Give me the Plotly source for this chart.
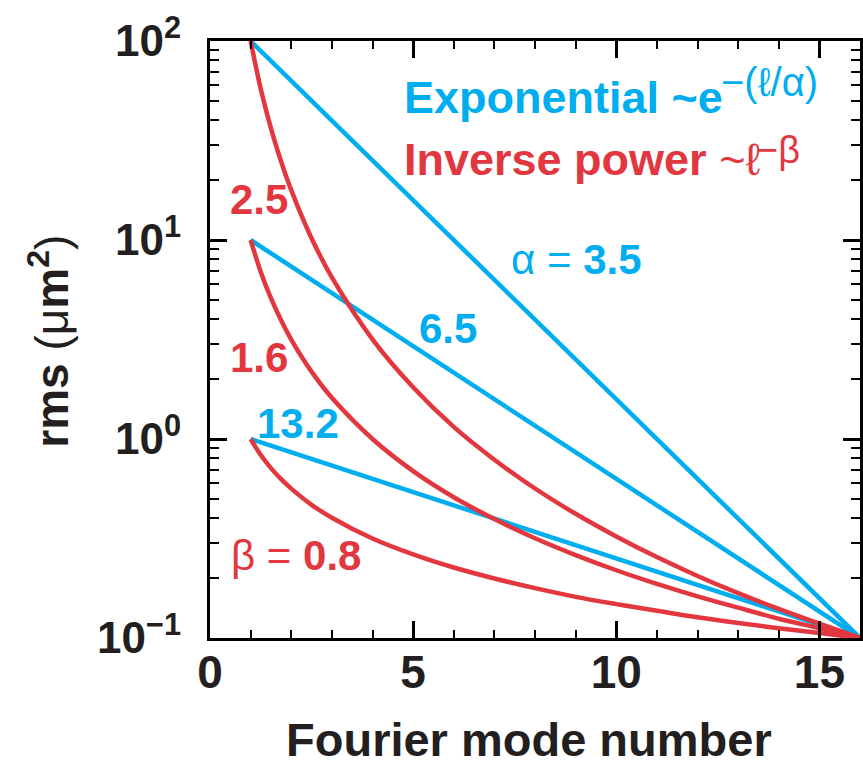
import plotly.graph_objects as go

# ---- data ----
mode_ends = [1, 16]
exp_35 = [100, 0.1]
exp_65 = [10, 0.1]
exp_132 = [1, 0.1]

mode_pts = [1, 1.25, 1.5, 1.75, 2, 2.5, 3, 4, 5, 6, 7, 8, 9, 10, 11, 12, 13, 14, 15, 16]
pow_25 = [100, 57.4, 36.4, 24.8, 17.8, 10.2, 6.49, 3.17, 1.82, 1.15, 0.787, 0.564, 0.421,
          0.324, 0.255, 0.205, 0.168, 0.140, 0.118, 0.1]
pow_16 = [10, 6.91, 5.10, 3.95, 3.16, 2.18, 1.61, 1.00, 0.69, 0.51, 0.396, 0.317, 0.261,
          0.219, 0.187, 0.162, 0.142, 0.125, 0.112, 0.1]
pow_08 = [1, 0.831, 0.714, 0.628, 0.563, 0.467, 0.402, 0.316, 0.263, 0.226, 0.199, 0.178,
          0.161, 0.148, 0.137, 0.127, 0.119, 0.112, 0.106, 0.100]

x_tickvals = [0, 5, 10, 15]
x_ticktext = ["<b>0</b>", "<b>5</b>", "<b>10</b>", "<b>15</b>"]
y_tickvals = [100, 10, 1, 0.1]
y_ticktext = ["<b>10<sup>2</sup></b>", "<b>10<sup>1</sup></b>", "<b>10<sup>0</sup></b>",
              "<b>10<sup>\u22121</sup></b>"]
y_minor = [m * 10 ** e for e in (-1, 0, 1) for m in range(2, 10)]
x_minor = list(range(0, 17))

BLUE = "#00AEEF"
RED = "#E2373F"
INK = "#231F20"
FONT = "Liberation Sans, Arial, Helvetica, sans-serif"

fig = go.Figure()
for ys in (exp_35, exp_65, exp_132):
    fig.add_trace(go.Scatter(x=mode_ends, y=ys, mode="lines",
                             line=dict(color=BLUE, width=4.5), showlegend=False))
for ys in (pow_25, pow_16, pow_08):
    fig.add_trace(go.Scatter(x=mode_pts, y=ys, mode="lines",
                             line=dict(color=RED, width=4.5, shape="spline", smoothing=1.0),
                             showlegend=False))

axis_common = dict(showline=True, linecolor="black", linewidth=3, mirror="ticks",
                   ticks="inside", tickcolor="black", showgrid=False, zeroline=False)

fig.update_xaxes(range=[0, 16], tickvals=x_tickvals, ticktext=x_ticktext,
                 ticklen=17, tickwidth=2.5,
                 minor=dict(tickvals=x_minor, ticklen=8, tickwidth=2, ticks="inside",
                            tickcolor="black", showgrid=False),
                 tickfont=dict(family=FONT, size=46, color=INK),
                 ticklabelstandoff=-8,
                 **axis_common)
fig.update_yaxes(type="log", range=[-1, 2], tickvals=y_tickvals, ticktext=y_ticktext,
                 ticklen=17, tickwidth=2.5,
                 minor=dict(tickvals=y_minor, ticklen=9, tickwidth=2, ticks="inside",
                            tickcolor="black", showgrid=False),
                 tickfont=dict(family=FONT, size=44, color=INK),
                 ticklabelstandoff=17,
                 **axis_common)

W0, H0, PW, PH = 210, 41, 653, 597


def px_ann(text, px, py, color, size, xanchor="center", **kw):
    fig.add_annotation(text=text, x=(px - W0) / PW, y=(H0 + PH - py) / PH,
                       xref="paper", yref="paper", showarrow=False,
                       xanchor=xanchor, yanchor="middle",
                       font=dict(family=FONT, size=size, color=color), **kw)


def ann(text, x, y, color, size=42):
    fig.add_annotation(text=text, x=x, y=y, xref="x", yref="y", showarrow=False,
                       xanchor="center", yanchor="middle",
                       font=dict(family=FONT, size=size, color=color))


# key texts
px_ann("<b>Exponential ~e</b>", 403, 97, BLUE, 45, xanchor="left")
px_ann("\u2212(\u2113/\u03b1)", 721, 82, BLUE, 40, xanchor="left")
px_ann("<b>Inverse power</b> ~\u2113", 403, 159, RED, 45, xanchor="left")
px_ann("\u2212\u03b2", 757, 150, RED, 38, xanchor="left")

# curve labels
ann("\u03b1 = <b>3.5</b>", 9.02, 0.904, BLUE)
ann("<b>6.5</b>", 5.87, 0.553, BLUE)
ann("<b>13.2</b>", 2.17, 0.076, BLUE)
ann("<b>2.5</b>", 1.21, 1.202, RED)
ann("<b>1.6</b>", 1.21, 0.408, RED)
ann("\u03b2 = <b>0.8</b>", 2.12, -0.583, RED)

# axis titles
px_ann("<b>Fourier mode number</b>", 530, 739, INK, 47)
px_ann("<b>rms</b> (\u03bc<b>m<sup>2</sup></b>)", 48, 341, INK, 46, textangle=-90)

fig.update_layout(width=863, height=762, margin=dict(l=210, r=0, t=41, b=124),
                  plot_bgcolor="white", paper_bgcolor="white")

fig.write_html("out.html")
